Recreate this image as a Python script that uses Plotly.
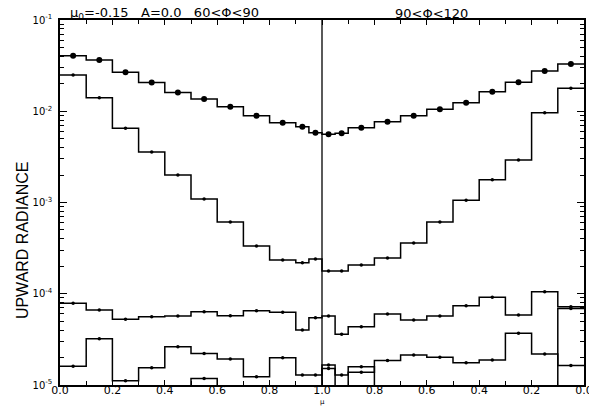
import plotly.graph_objects as go

# ---- data -------------------------------------------------------------
# mu bin edges on one half (0 -> 1); the right half mirrors it (1 -> 0)
mu_edges = [0.0, 0.1, 0.2, 0.3, 0.4, 0.5, 0.6, 0.7, 0.8, 0.9, 0.95, 1.0]
x_tick_labels = ["0.0", "0.2", "0.4", "0.6", "0.8", "1.0", "0.8", "0.6", "0.4", "0.2", "0.0"]
y_tick_labels = ["10<sup>-5</sup>", "10<sup>-4</sup>", "10<sup>-3</sup>", "10<sup>-2</sup>", "10<sup>-1</sup>"]

# left half: bins ordered mu 0 -> 1 ; right half: bins ordered mu 1 -> 0
A_left = [0.0406, 0.0365, 0.0267, 0.0206, 0.0160, 0.0136, 0.0112, 0.00894, 0.00750, 0.00677, 0.00582]
A_right = [0.00559, 0.00573, 0.00660, 0.00768, 0.00894, 0.0105, 0.0124, 0.0164, 0.0208, 0.0276, 0.0330]

B_left = [0.0249, 0.0141, 0.00650, 0.00357, 0.00200, 0.00109, 0.000611, 0.000334, 0.000234, 0.000219, 0.000240]
B_right = [0.000177, 0.000177, 0.000207, 0.000247, 0.000360, 0.000611, 0.00106, 0.00177, 0.00292, 0.00964, 0.0179]

C_left = [7.86e-5, 6.64e-5, 5.25e-5, 5.60e-5, 5.71e-5, 6.35e-5, 5.74e-5, 6.52e-5, 6.26e-5, 4.01e-5, 5.47e-5]
C_right = [5.71e-5, 3.60e-5, 4.36e-5, 6.00e-5, 5.15e-5, 5.71e-5, 7.40e-5, 9.14e-5, 5.85e-5, 1.054e-4, 7.21e-5]

D_left = [1.61e-5, 3.21e-5, 1.11e-5, 1.55e-5, 2.63e-5, 2.22e-5, 1.93e-5, 1.23e-5, 1.99e-5, 1.29e-5, 1.29e-5]
D_right = [1.52e-5, 1.29e-5, 1.38e-5, 1.85e-5, 2.13e-5, 2.01e-5, 1.75e-5, 1.88e-5, 3.68e-5, 2.19e-5, 1.64e-5]

E_left = [5e-6, 5e-6, 5e-6, 5e-6, 5e-6, 1.18e-5, 5e-6, 5e-6, 5e-6, 5e-6, 5e-6]
E_right = [1.66e-5, 5e-6, 1.58e-5, 5e-6, 5e-6, 5e-6, 5e-6, 5e-6, 5e-6, 5e-6, 6.9e-5]

# ---- geometry of the mirrored axis ------------------------------------
# chart coordinate: left half x = mu, right half x = 2 - mu
x_edges = mu_edges + [2 - m for m in reversed(mu_edges[:-1])]
x_centers = [(a + b) / 2 for a, b in zip(x_edges[:-1], x_edges[1:])]

fig = go.Figure()

def add_series(left, right, msize, symbol="circle"):
    vals = left + right
    fig.add_trace(go.Scatter(
        x=x_edges, y=vals + [vals[-1]], mode="lines", line_shape="hv",
        line=dict(color="black", width=1.5), showlegend=False, hoverinfo="skip"))
    fig.add_trace(go.Scatter(
        x=x_centers, y=vals, mode="markers",
        marker=dict(color="black", size=msize, symbol=symbol),
        showlegend=False, hoverinfo="skip"))

add_series(A_left, A_right, 6)
add_series(B_left, B_right, 3.5)
add_series(C_left, C_right, 3.5)
add_series(D_left, D_right, 3.5)
add_series(E_left, E_right, 3.5)

font_family = "DejaVu Sans"

fig.update_layout(
    width=589, height=407,
    margin=dict(l=60, r=5, t=20, b=22, autoexpand=False),
    paper_bgcolor="white", plot_bgcolor="white",
    font=dict(family=font_family, color="black", size=11),
    shapes=[dict(type="line", xref="x", yref="paper", x0=1.0, x1=1.0, y0=0, y1=1,
                 line=dict(color="black", width=1.3))],
)

fig.update_xaxes(
    range=[0, 2], showgrid=False, zeroline=False, automargin=False,
    showline=True, linecolor="black", linewidth=1.5, mirror="ticks",
    ticks="inside", ticklen=5, tickwidth=1.2, tickcolor="black",
    tickvals=[i * 0.2 for i in range(11)], ticktext=x_tick_labels,
    tickfont=dict(size=11, family=font_family),
    ticklabeloverflow="allow",
    minor=dict(ticks="inside", ticklen=4, tickcolor="black", tickwidth=1.2,
               tickvals=[0.1 + 0.2 * i for i in range(10)], showgrid=False),
)
try:
    fig.update_xaxes(ticklabelstandoff=-6)
except Exception:
    pass

minor_y = [m * 10 ** e for e in range(-5, -1) for m in range(2, 10)]
fig.update_yaxes(
    type="log", range=[-5, -1], showgrid=False, zeroline=False, automargin=False,
    showline=True, linecolor="black", linewidth=1.5, mirror="ticks",
    ticks="inside", ticklen=7, tickwidth=1.2, tickcolor="black",
    tickvals=[1e-5, 1e-4, 1e-3, 1e-2, 1e-1], ticktext=y_tick_labels,
    tickfont=dict(size=10, family=font_family),
    ticklabelstandoff=4,
    minor=dict(ticks="inside", ticklen=4, tickcolor="black", tickwidth=1.1,
               tickvals=minor_y, showgrid=False),
)

fig.add_annotation(text="UPWARD RADIANCE", xref="paper", yref="paper",
                   x=-0.0725, y=0.397, textangle=-90, showarrow=False,
                   font=dict(size=16, family="Liberation Sans"),
                   xanchor="center", yanchor="middle")
fig.add_annotation(text="\u03bc<sub>0</sub>=-0.15   A=0.0   60&lt;\u03a6&lt;90",
                   xref="paper", yref="paper", x=0.0153, y=1.018,
                   showarrow=False, xanchor="left", yanchor="middle",
                   font=dict(size=13, family=font_family))
fig.add_annotation(text="90&lt;\u03a6&lt;120", xref="paper", yref="paper",
                   x=0.635, y=1.018, showarrow=False, xanchor="left", yanchor="middle",
                   font=dict(size=13, family=font_family))
fig.add_annotation(text="\u03bc", xref="paper", yref="paper", x=0.5, y=-0.0603,
                   showarrow=False, xanchor="center", yanchor="bottom",
                   borderpad=0, font=dict(size=7, family=font_family))

fig.write_html("out.html")
